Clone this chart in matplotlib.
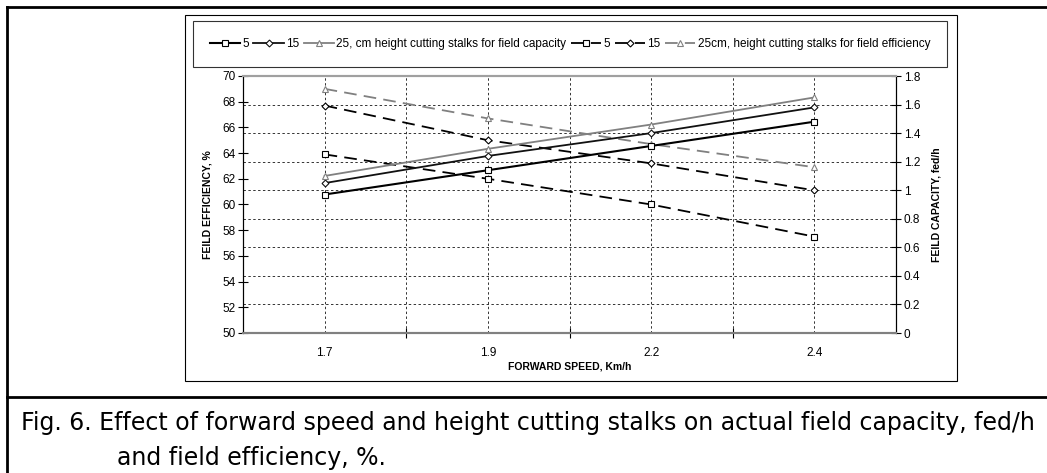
import numpy as np
import matplotlib.pyplot as plt
from matplotlib.lines import Line2D

# x categories: forward speed, km/h
speeds = ['1.7', '1.9', '2.2', '2.4']

# field capacity, fed/h (right axis, solid lines)
cap_5 = [0.97, 1.14, 1.31, 1.48]
cap_15 = [1.05, 1.24, 1.40, 1.58]
cap_25 = [1.10, 1.29, 1.46, 1.65]

# field efficiency, % (left axis, dashed lines)
eff_5 = [63.9, 62.0, 60.0, 57.5]
eff_15 = [67.7, 65.0, 63.2, 61.1]
eff_25 = [69.0, 66.7, 64.7, 62.9]

labels = ['5', '15', '25, cm height cutting stalks for field capacity',
          '5', '15', '25cm, height cutting stalks for field efficiency']

plt.rcParams['font.family'] = ['Liberation Sans', 'DejaVu Sans']

W, H = 1047, 473
fig = plt.figure(figsize=(W / 100, H / 100), dpi=100)

def fx(px):
    return px / W

def fy(py):
    return 1 - py / H

# frames around the figure
fig.add_artist(plt.Line2D([fx(7), fx(7)], [0, fy(7)], color='black', lw=2))
fig.add_artist(plt.Line2D([fx(7), 1], [fy(7), fy(7)], color='black', lw=2))
fig.add_artist(plt.Line2D([fx(7), 1], [fy(397), fy(397)], color='black', lw=2))
fig.add_artist(plt.Rectangle((fx(185), fy(381)), fx(957) - fx(185), fy(15) - fy(381),
                             fill=False, ec='black', lw=0.8))

ax = fig.add_axes([fx(243), fy(333), fx(896) - fx(243), fy(76) - fy(333)])
ax2 = ax.twinx()

x = np.arange(len(speeds))
ax.set_xlim(-0.5, len(speeds) - 0.5)
ax.set_ylim(50, 70)
ax2.set_ylim(0, 1.8)

grid_kw = dict(color='#333333', lw=0.7, ls=(0, (2.5, 2.5)))
# horizontal grid follows the right axis ticks
for v in np.linspace(50, 70, 10)[1:-1]:
    ax.axhline(v, zorder=0, **grid_kw)
for v in np.arange(len(speeds) + 1)[1:-1] - 0.5:
    ax.axvline(v, zorder=0, **grid_kw)
for v in x:
    ax.axvline(v, zorder=0, **grid_kw)

dash = (0, (7, 4))
mk = dict(ms=4.5, mfc='white', mew=0.8)
mkd = dict(ms=3.5, mfc='white', mew=0.8)
ax.plot(x, eff_5, color='black', ls=dash, lw=1.3, marker='s', **mk)
ax.plot(x, eff_15, color='black', ls=dash, lw=1.3, marker='D', **mkd)
ax.plot(x, eff_25, color='#808080', ls=dash, lw=1.3, marker='^', **mk)

ax2.plot(x, cap_5, color='black', lw=1.5, marker='s', **mk)
ax2.plot(x, cap_15, color='#111111', lw=1.3, marker='D', **mkd)
ax2.plot(x, cap_25, color='#808080', lw=1.3, marker='^', **mk)

ax.set_yticks(np.arange(50, 71, 2))
ax2.set_yticks(np.round(np.arange(0, 1.81, 0.2), 1))
ax2.set_yticklabels(['0', '0.2', '0.4', '0.6', '0.8', '1', '1.2', '1.4', '1.6', '1.8'])
ax.set_xticks(np.arange(len(speeds) + 1)[1:-1] - 0.5)
ax.set_xticklabels([])
ax.set_xticks(x, minor=True)
ax.set_xticklabels(speeds, minor=True)

ax.tick_params(axis='y', direction='inout', length=7, width=0.8, labelsize=8.5, pad=2)
ax2.tick_params(axis='y', direction='inout', length=7, width=0.8, labelsize=8.5, pad=2)
ax.tick_params(axis='x', which='major', direction='inout', length=7, width=0.8)
ax.tick_params(axis='x', which='minor', length=0, labelsize=8.5, pad=10)

for a in (ax, ax2):
    a.spines['top'].set_color('#a0a0a0')
    a.spines['top'].set_linewidth(1.5)
    a.spines['bottom'].set_color('#808080')
    a.spines['bottom'].set_linewidth(1.5)
    a.spines['left'].set_linewidth(0.8)
    a.spines['right'].set_linewidth(0.8)

ax.set_ylabel('FEILD EFFICIENCY, %', fontsize=7.5, fontweight='bold', labelpad=7)
ax2.set_ylabel('FEILD CAPACITY, fed/h', fontsize=7.5, fontweight='bold', labelpad=8,
               rotation=90)
ax.set_xlabel('FORWARD SPEED, Km/h', fontsize=7.5, fontweight='bold', labelpad=2)

handles = [
    Line2D([], [], color='black', lw=1.5, marker='s', **mk),
    Line2D([], [], color='#111111', lw=1.3, marker='D', **mkd),
    Line2D([], [], color='#808080', lw=1.3, marker='^', **mk),
    Line2D([], [], color='black', ls=dash, lw=1.3, marker='s', **mk),
    Line2D([], [], color='black', ls=dash, lw=1.3, marker='D', **mkd),
    Line2D([], [], color='#808080', ls=dash, lw=1.3, marker='^', **mk),
]
leg = fig.legend(handles, labels, ncol=6, loc='center',
                 bbox_to_anchor=(fx(570), fy(44)), fontsize=8.5,
                 frameon=True, fancybox=False, edgecolor='black',
                 handlelength=2.55, handletextpad=0.2, columnspacing=0.4,
                 borderpad=1.45, borderaxespad=0)
leg.get_frame().set_linewidth(0.8)

cap_font = ['DejaVu Sans Condensed', 'DejaVu Sans']
fig.text(fx(21), fy(430), 'Fig. 6. Effect of forward speed and height cutting stalks on actual field capacity, fed/h',
         fontsize=17, va='baseline', ha='left', family=cap_font)
fig.text(fx(117), fy(465), 'and field efficiency, %.',
         fontsize=17, va='baseline', ha='left', family=cap_font)

fig.savefig('out.png', dpi=100)
